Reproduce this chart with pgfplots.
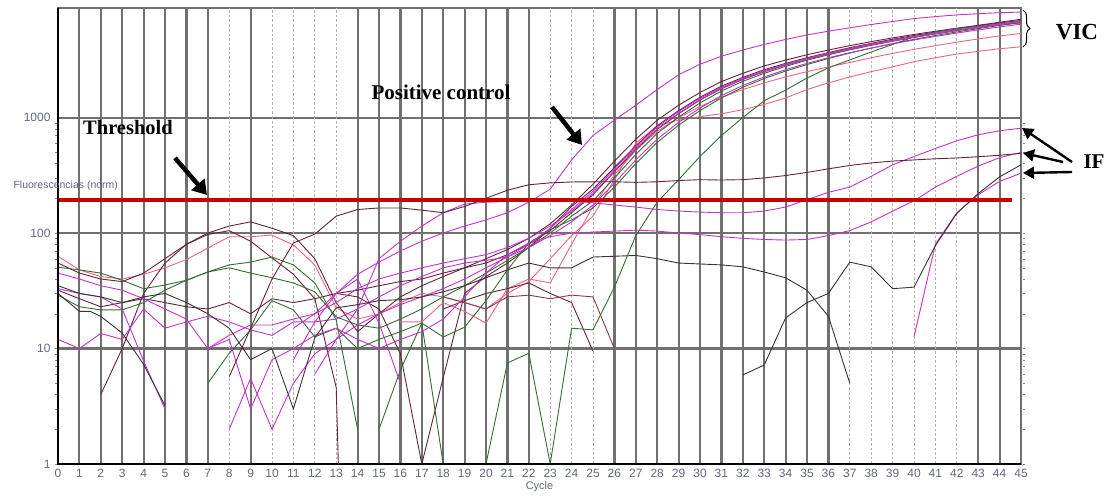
\documentclass[border=0pt]{standalone}
\usepackage{fontspec}
\setmainfont{Liberation Sans}
\newfontfamily\annot{Liberation Serif}
\usepackage{pgfplots}
\pgfplotsset{compat=1.18}
\usetikzlibrary{arrows.meta,decorations.pathreplacing}
\definecolor{mag}{RGB}{195,50,200}
\definecolor{mar}{RGB}{100,35,60}
\definecolor{grn}{RGB}{50,110,50}
\definecolor{pnk}{RGB}{235,100,130}
\definecolor{dk}{RGB}{60,50,50}
\definecolor{labg}{RGB}{95,105,125}
\definecolor{thr}{RGB}{200,0,0}
\definecolor{grd}{RGB}{112,112,112}
\begin{document}
\begin{tikzpicture}
\useasboundingbox (-58pt,-38pt) rectangle (1050pt,464pt);
\begin{axis}[at={(0pt,0pt)}, anchor=south west, scale only axis,
  width=963pt, height=456pt,
  xmin=0, xmax=45, ymode=log, ymin=1, ymax=8900,
  xtick={0,1,2,3,4,5,6,7,9,14,15,16,17,18,19,20,21,22,26,27,28,29,30,31,32,33,34,35,36,43,44,45},
  extra x ticks={8,10,11,12,13,23,24,25,37,38,39,40,41,42},
  extra x tick style={major grid style={gray!60, dash dot, line width=0.8pt}},
  ytick={1,10,100,1000}, yticklabels={1,10,100,1000},
  xmajorgrids, ymajorgrids,
  major grid style={grd, line width=2.2pt},
  major tick length=0pt, minor tick length=3pt,
  minor tick style={gray, densely dotted},
  tick align=outside,
  axis line style={draw=grd, line width=1.6pt},
  /pgf/number format/assume math mode=true,
  xticklabel style={font=\fontsize{12}{12}\selectfont, text=labg, yshift=-2pt},
  yticklabel style={font=\fontsize{12}{12}\selectfont, text=labg, xshift=-4pt},
  xlabel={Cycle}, xlabel style={font=\fontsize{11}{11}\selectfont, text=labg, yshift=3pt},
  cv/.style={line width=0.9pt, no marks},
  clip=true]
% ---- pink A (early pink -> low VIC)
\addplot[cv, pnk] coordinates {(0,63)(1,48)(2,42)(3,40)(4,44)(5,50)(6,59)(7,74)(8,93)(9,93)(10,96)(11,79)(12,53)(13,22.5)(14,18)(15,20)(16,25)(17,30)(18,28)(19,25)(20,22)(21,30)(22,38)(23,60)(24,95)(25,140)(26,290)(27,600)(28,850)(29,950)(30,1020)(31,1080)(32,1170)(33,1300)(34,1480)(35,1750)(36,2000)(37,2250)(38,2500)(39,2750)(40,3050)(41,3300)(42,3550)(43,3750)(44,3950)(45,4100)};
% ---- pink B
\addplot[cv, pnk] coordinates {(16,17)(17,17)(18,25)(19,21)(20,16.6)(21,33)(22,40)(23,37)(24,80)(25,170)(26,320)(27,520)(28,760)(29,1000)(30,1250)(31,1500)(32,1750)(33,2000)(34,2250)(35,2500)(36,2750)(37,3000)(38,3300)(39,3600)(40,3900)(41,4200)(42,4500)(43,4800)(44,5100)(45,5350)};
% ---- V1 maroon (hump H2)
\addplot[cv, mar] coordinates {(0,55)(1,45)(2,40)(3,38)(4,45)(5,60)(6,80)(7,100)(8,115)(9,125)(10,110)(11,95)(12,60)(13,25)(14,14)(15,20)(16,28)(17,35)(18,42)(19,50)(20,60)(21,72)(22,90)(23,120)(24,175)(25,265)(26,420)(27,650)(28,950)(29,1280)(30,1650)(31,2050)(32,2420)(33,2800)(34,3150)(35,3500)(36,3850)(37,4200)(38,4550)(39,4900)(40,5250)(41,5600)(42,5950)(43,6300)(44,6700)(45,7100)};
% ---- V2 maroon flat
\addplot[cv, mar] coordinates {(0,32)(1,27)(2,23)(3,25)(4,27)(5,25)(6,23)(7,22)(8,25)(9,20)(10,27)(11,25)(12,27)(13,30)(14,32)(15,35)(16,38)(17,40)(18,45)(19,50)(20,55)(21,65)(22,80)(23,105)(24,150)(25,215)(26,340)(27,530)(28,790)(29,1080)(30,1420)(31,1780)(32,2140)(33,2500)(34,2850)(35,3200)(36,3560)(37,3920)(38,4280)(39,4640)(40,5000)(41,5360)(42,5720)(43,6080)(44,6430)(45,6800)};
% ---- maroon hump H1 (ends at 1)
\addplot[cv, mar] coordinates {(2,4)(3,10)(4,30)(5,55)(6,80)(7,97)(8,105)(9,85)(10,61)(11,44)(12,27)(13,4.6)(13.1,1)};
% ---- M5 maroon (drops to 1 at 17)
\addplot[cv, mar] coordinates {(13,30)(14,28)(15,22)(16,9)(17,1)(18,5.6)(19,30)(20,42)(21,55)(22,75)(23,110)(24,170)(25,240)(26,370)(27,570)(28,850)(29,1150)(30,1500)(31,1870)(32,2230)(33,2600)(34,2950)(35,3300)(36,3660)(37,4030)(38,4400)(39,4770)(40,5140)(41,5510)(42,5880)(43,6250)(44,6600)(45,6950)};
% ---- maroon short ending lines
\addplot[cv, mar] coordinates {(18,22)(19,26)(20,30)(21,33)(22,37)(23,30)(24,25)(25,9.5)};
\addplot[cv, mar!70!pnk] coordinates {(18,28)(19,25)(20,22)(21,28)(22,29)(23,27)(24,29)(25,28)(26,10)};
% ---- green G1
\addplot[cv, grn] coordinates {(0,50.6)(1,48)(2,45)(3,39)(4,33)(5,35.5)(6,39)(7,46)(8,53)(9,56)(10,62)(11,53)(12,37)(13,17.7)(14,2)};
% ---- green G2 -> VIC
\addplot[cv, grn] coordinates {(0,29)(1,23)(2,21.6)(3,21.6)(4,25)(5,32)(6,39)(7,46)(8,50)(9,45)(10,41)(11,37)(12,31)(13,18.8)(14,16)(15,15)(16,18)(17,22)(18,28)(19,35)(20,45)(21,58)(22,75)(23,100)(24,140)(25,190)(26,300)(27,480)(28,730)(29,1010)(30,1340)(31,1700)(32,2060)(33,2420)(34,2780)(35,3140)(36,3500)(37,3860)(38,4220)(39,4580)(40,4940)(41,5300)(42,5660)(43,6020)(44,6400)(45,6900)};
% ---- green G3 -> VIC
\addplot[cv, grn] coordinates {(15,2)(16,6.5)(17,16.6)(18,12.6)(19,15.3)(20,26)(21,48)(22,82)(23,107)(24,130)(25,165)(26,250)(27,400)(28,610)(29,860)(30,1150)(31,1480)(32,1830)(33,2180)(34,2530)(35,2880)(36,3250)(37,3620)(38,4000)(39,4380)(40,4760)(41,5140)(42,5520)(43,5900)(44,6280)(45,6650)};
% ---- green G4 (ends at 1)
\addplot[cv, grn] coordinates {(7,5)(8,9.1)(9,14.5)(10,26)(11,21.6)(12,12.6)(13,15)(14,10)(15,12)(16,14)(17,16.6)(18,1)};
% ---- green late
\addplot[cv, grn] coordinates {(20,1)(21,7.5)(22,9.1)(23,1)(24,15)(25,14.5)(26,34)(27,95)(28,185)(29,290)(30,460)(31,700)(32,1000)(33,1400)(34,1730)(35,2200)(36,2700)(37,3160)(38,3700)(39,4300)(40,5000)(41,5500)(42,5900)(43,6200)(44,6400)(45,6600)};
% ---- magenta V4
\addplot[cv, mag] coordinates {(0,45)(1,40)(2,35)(3,32)(4,27)(5,22)(6,18)(7,10)(8,13)(9,16)(10,16)(11,18)(12,20)(13,25)(14,33)(15,40)(16,45)(17,50)(18,55)(19,60)(20,65)(21,75)(22,90)(23,115)(24,155)(25,220)(26,345)(27,540)(28,800)(29,1090)(30,1430)(31,1790)(32,2150)(33,2500)(34,2850)(35,3200)(36,3560)(37,3920)(38,4270)(39,4620)(40,4980)(41,5330)(42,5680)(43,6030)(44,6380)(45,6750)};
% ---- magenta V5
\addplot[cv, mag] coordinates {(0,12)(1,10)(2,13.5)(3,12)(4,22)(5,15)(6,17)(7,19)(8,17)(9,14.5)(10,13)(11,17)(12,17)(13,18)(14,22)(15,28)(16,35)(17,42)(18,50)(19,55)(20,58)(21,62)(22,75)(23,95)(24,125)(25,175)(26,270)(27,430)(28,650)(29,910)(30,1210)(31,1550)(32,1900)(33,2250)(34,2600)(35,2950)(36,3300)(37,3650)(38,4000)(39,4350)(40,4700)(41,5050)(42,5400)(43,5750)(44,6100)(45,6450)};
% ---- magenta V6 (zigzag start)
\addplot[cv, mag] coordinates {(8,2)(9,5.5)(10,2)(11,5)(12,9)(13,12)(14,16)(15,20)(16,24)(17,28)(18,33)(19,40)(20,50)(21,62)(22,80)(23,110)(24,160)(25,230)(26,360)(27,560)(28,830)(29,1130)(30,1470)(31,1830)(32,2190)(33,2550)(34,2900)(35,3260)(36,3620)(37,3980)(38,4340)(39,4700)(40,5060)(41,5420)(42,5780)(43,6140)(44,6500)(45,6850)};
% ---- magenta short lines
\addplot[cv, mag] coordinates {(0,33)(1,30)(2,28)(3,22)(4,7.8)(5,3)};
\addplot[cv, mag] coordinates {(11,15)(12,20)(13,30)(14,40)(15,16.6)(16,5)};
% ---- positive control
\addplot[cv, mag] coordinates {(11,8)(12,17)(13,30)(14,44)(15,56)(16,70)(17,85)(18,100)(19,115)(20,130)(21,150)(22,185)(23,240)(24,430)(25,700)(26,950)(27,1280)(28,1750)(29,2350)(30,2900)(31,3400)(32,3850)(33,4300)(34,4750)(35,5200)(36,5600)(37,6000)(38,6400)(39,6800)(40,7200)(41,7500)(42,7750)(43,7950)(44,8100)(45,8200)};
% ---- IF1 magenta
\addplot[cv, mag] coordinates {(12,6)(13,12)(14,22)(15,60)(16,85)(17,115)(18,150)(19,178)(20,185)(21,188)(22,192)(23,196)(24,190)(25,183)(26,175)(27,168)(28,160)(29,155)(30,152)(31,150)(32,150)(33,155)(34,168)(35,195)(36,225)(37,250)(38,310)(39,390)(40,460)(41,540)(42,630)(43,710)(44,770)(45,810)};
% ---- IF2 magenta
\addplot[cv, mag] coordinates {(7,10)(8,12)(9,3)(10,8)(11,10)(12,13)(13,15)(14,12)(15,10)(16,12)(17,14)(18,18)(19,28)(20,45)(21,65)(22,82)(23,93)(24,100)(25,102)(26,104)(27,106)(28,104)(29,100)(30,97)(31,93)(32,90)(33,88)(34,87)(35,88)(36,95)(37,105)(38,125)(39,155)(40,190)(41,250)(42,310)(43,380)(44,450)(45,500)};
% ---- IF brown
\addplot[cv, mar] coordinates {(8,5.7)(9,15)(10,40)(11,82)(12,98)(13,140)(14,160)(15,165)(16,165)(17,158)(18,150)(19,170)(20,200)(21,235)(22,262)(23,272)(24,277)(25,278)(26,278)(27,275)(28,278)(29,285)(30,290)(31,288)(32,290)(33,300)(34,315)(35,335)(36,360)(37,385)(38,405)(39,420)(40,430)(41,440)(42,447)(43,458)(44,472)(45,490)};
% ---- dark hump curve
\addplot[cv, dk] coordinates {(0,35)(1,30)(2,28)(3,25)(4,28)(5,30)(6,25)(7,20)(8,15)(9,8)(10,10)(11,3)(12,12.4)(13,22.5)(14,24)(15,26)(16,26.5)(17,28)(18,31)(19,35)(20,41)(21,48)(22,55)(23,50)(24,50)(25,62)(26,63)(27,64)(28,60)(29,55)(30,54)(31,53)(32,51)(33,46)(34,41)(35,32)(36,19)(37,5)};
% ---- dark short line
\addplot[cv, dk] coordinates {(0,30)(1,21)(1.5,21)(2,19)(3,13.6)(4,7.3)(5,3.2)};
% ---- IF3 dark + magenta
\addplot[cv, mag] coordinates {(40,12.6)(41,80)(42,150)(43,215)(44,280)(45,330)};
\addplot[cv, dk] coordinates {(32,5.9)(33,7.2)(34,18.4)(35,25)(36,30)(37,56)(38,51)(39,33)(40,34)(41,78)(42,148)(43,220)(44,307)(45,390)};
% ---- threshold
\addplot[thr, line width=3.6pt, no marks] coordinates {(0,193)(44.6,193)};
\end{axis}
% axis left & bottom
\draw[black, line width=2.6pt] (0pt,456pt) -- (0pt,0pt) -- (963pt,0pt);
% y axis title
\node[anchor=west, font=\fontsize{10.5}{10.5}\selectfont, text=labg] at (-48pt,278pt) {Fluorescencias (norm)};
% annotations
\node[font=\annot\bfseries\fontsize{20.5}{20.5}\selectfont] at (70pt,337pt) {Threshold};
\draw[line width=4.5pt, -{Triangle[length=14pt,width=17pt]}] (117pt,306pt) -- (149pt,269pt);
\node[font=\annot\bfseries\fontsize{21}{21}\selectfont] at (383pt,372pt) {Positive control};
\draw[line width=4.5pt, -{Triangle[length=14pt,width=17pt]}] (494pt,357pt) -- (524pt,319pt);
\draw[line width=1pt, decorate, decoration={brace, amplitude=7pt}] (965pt,454pt) -- (965pt,417pt);
\node[font=\annot\bfseries\fontsize{23}{23}\selectfont] at (1019pt,432pt) {VIC};
\node[font=\annot\bfseries\fontsize{21}{21}\selectfont] at (1036pt,302pt) {IF};
\draw[line width=2.4pt, -{Triangle[length=11pt,width=12pt]}] (1014pt,302pt) -- (964pt,336pt);
\draw[line width=2.4pt, -{Triangle[length=11pt,width=12pt]}] (1005pt,302pt) -- (965pt,311pt);
\draw[line width=2.4pt, -{Triangle[length=11pt,width=12pt]}] (1014pt,292pt) -- (965pt,291pt);
\end{tikzpicture}
\end{document}
